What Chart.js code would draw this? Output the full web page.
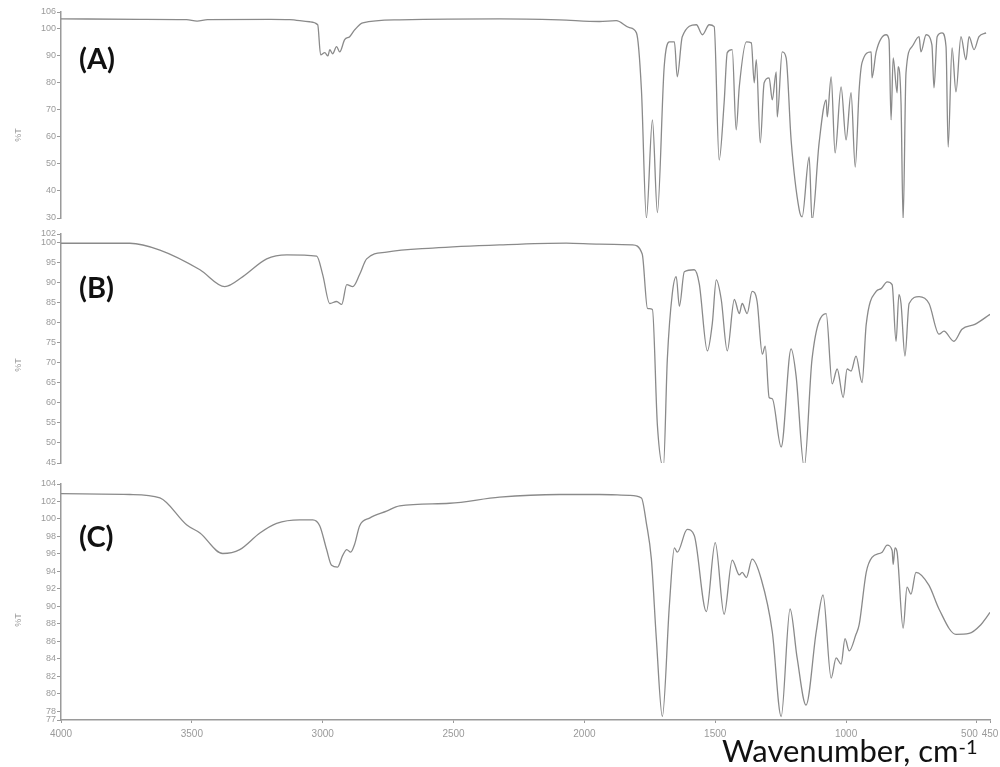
<!DOCTYPE html>
<html>
<head>
<meta charset="utf-8">
<script src="https://cdn.jsdelivr.net/npm/chart.js@4.4.1/dist/chart.umd.min.js"></script>
<style>
  body { margin: 0; background: #fff; }
  #wrap { position: relative; width: 1000px; height: 767px; overflow: hidden; }
  #wrap canvas { position: absolute; left: 0; }
  .panel { position: absolute; left: 79px; font: bold 29px Lato, sans-serif; line-height: 1; color: #111; }
  .ylab { position: absolute; left: 18px; font: 9px "Liberation Sans", sans-serif; color: #999;
          transform: translate(-50%, -50%) rotate(-90deg); white-space: nowrap; }
  #xlab { position: absolute; left: 722px; top: 735px; font: 31px Lato, sans-serif; line-height: 1; color: #111; white-space: nowrap; }
  #xlab sup { font-size: 20px; vertical-align: 8px; line-height: 0; }
</style>
</head>
<body>
<div id="wrap">
  <canvas id="chartA" width="1000" height="225" style="top:0px"></canvas>
  <canvas id="chartB" width="1000" height="245" style="top:225px"></canvas>
  <canvas id="chartC" width="1000" height="297" style="top:470px"></canvas>
  <div class="panel" style="top:43px">(A)</div>
  <div class="panel" style="top:272px">(B)</div>
  <div class="panel" style="top:521px">(C)</div>
  <div class="ylab" style="top:135px">%T</div>
  <div class="ylab" style="top:365px">%T</div>
  <div class="ylab" style="top:620px">%T</div>
  <div id="xlab">Wavenumber, cm<sup>-1</sup></div>
</div>
<script>
// wavenumber axis (shared by the three spectra)
const xTicks = [4000, 3500, 3000, 2500, 2000, 1500, 1000, 500, 450];

// (A)
const wnA = [4000, 3700, 3520, 3480, 3440, 3200, 3126, 3050, 3019, 3008, 2992, 2980, 2973, 2962, 2947, 2935, 2916, 2897, 2878, 2847,
  2706, 2324, 2095, 1943, 1878, 1828, 1801, 1782, 1763, 1740, 1721, 1695, 1675, 1656, 1645, 1626, 1572, 1549, 1523, 1504,
  1485, 1466, 1454, 1435, 1420, 1408, 1381, 1362, 1351, 1343, 1328, 1313, 1294, 1282, 1267, 1263, 1244, 1229, 1210, 1179,
  1168, 1141, 1130, 1103, 1076, 1072, 1057, 1042, 1019, 1000, 981, 965, 950, 939, 904, 901, 885, 847, 836, 828,
  820, 805, 801, 790, 782, 771, 748, 721, 714, 694, 672, 664, 652, 633, 618, 610, 595, 580, 561, 542,
  530, 511, 492, 465];
const tA = [103.5, 103.3, 103.2, 102.6, 103.2, 103.3, 103.2, 102.4, 101.3, 90.2, 91, 89.8, 92.1, 90.6, 93.2, 91.3, 95.8, 96.9, 99.4, 102,
  103.1, 103.5, 103.1, 102.5, 102.8, 100.2, 98.3, 77.3, 30, 66.2, 32, 85.8, 95, 95, 82.1, 96.9, 101.3, 97.6, 101.3, 100.6,
  51.4, 72.5, 91, 92.1, 62.5, 78.4, 95, 94.6, 79.9, 88.4, 57.7, 79.9, 81.7, 73.6, 83.9, 67.3, 91.3, 89.1, 58.8, 33,
  30.4, 52.5, 29, 57.7, 73.6, 67.3, 82.1, 54, 78.4, 58.8, 76.2, 48.8, 77.3, 87.3, 91.3, 81.7, 91.3, 97.6, 95.8, 66.2,
  89.1, 76.2, 85.8, 72.5, 29, 83.6, 93.2, 96.9, 91.3, 97.6, 93.9, 78, 96.9, 98.3, 93.2, 56.2, 92.8, 76.5, 96.9, 88.4,
  96.9, 92.1, 96.9, 98.3];
const yTicksA = [106, 100, 90, 80, 70, 60, 50, 40, 30];

// (B)
const wnB = [4000, 3737, 3622, 3469, 3374, 3305, 3214, 3137, 3023, 3000, 2973, 2947, 2927, 2908, 2885, 2859, 2832, 2756, 2580, 2324,
  2069, 1943, 1817, 1779, 1759, 1740, 1721, 1698, 1683, 1664, 1649, 1637, 1618, 1580, 1561, 1530, 1511, 1496, 1477, 1454,
  1427, 1408, 1397, 1378, 1359, 1340, 1320, 1309, 1294, 1282, 1248, 1210, 1191, 1160, 1130, 1076, 1053, 1034, 1011, 996,
  981, 962, 939, 923, 885, 866, 843, 824, 809, 798, 790, 775, 759, 721, 683, 645, 626, 588, 557, 508,
  450];
const tB = [99.7, 99.7, 98, 93.1, 88.9, 91.4, 95.8, 96.8, 96.5, 91.9, 84.7, 85.2, 84.5, 89.4, 88.9, 91.9, 95.8, 97.5, 98.5, 99.3,
  99.75, 99.5, 99.3, 97, 83.5, 83.2, 54.4, 44, 70.9, 87.2, 91.4, 84, 92.6, 93.1, 89.6, 72.9, 79.8, 90.6, 85.7, 72.9,
  85.7, 82.2, 84.7, 82.2, 87.7, 85.2, 72.1, 74.1, 61.3, 61, 49, 73.4, 66.7, 44, 70.9, 82.2, 64.7, 68.4, 61.3, 68.4,
  67.9, 71.6, 65, 79.5, 87.7, 88.4, 90.1, 89.4, 75.3, 86.9, 84.7, 71.6, 84.7, 86.4, 84.7, 77.1, 77.8, 75.3, 78.3, 79.5,
  82];
const yTicksB = [102, 100, 95, 90, 85, 80, 75, 70, 65, 60, 55, 50, 45];

// (C)
const wnC = [4000, 3737, 3622, 3519, 3469, 3382, 3317, 3240, 3176, 3088, 3038, 3011, 2985, 2966, 2943, 2924, 2908, 2893, 2878, 2859,
  2821, 2756, 2706, 2515, 2324, 2095, 1943, 1828, 1782, 1763, 1744, 1725, 1702, 1675, 1656, 1645, 1607, 1580, 1534, 1500,
  1466, 1435, 1408, 1397, 1381, 1359, 1324, 1282, 1248, 1214, 1187, 1153, 1114, 1088, 1057, 1038, 1019, 1004, 988, 962,
  950, 923, 901, 862, 843, 824, 820, 813, 805, 782, 767, 752, 733, 683, 645, 580, 530, 485, 462, 450];
const tC = [102.9, 102.8, 102.4, 99.3, 98.4, 96.05, 96.5, 98.4, 99.5, 99.9, 99.9, 99.2, 96.5, 94.7, 94.5, 95.8, 96.5, 96.2, 97.1, 99.2,
  100.1, 100.9, 101.5, 101.8, 102.5, 102.8, 102.8, 102.7, 102.4, 99.5, 95.4, 86.3, 77.4, 90.2, 96.7, 96.2, 98.8, 98.1, 89.4, 97.3,
  89.1, 95.3, 93.6, 93.9, 93.3, 95.4, 93.1, 87.1, 77.4, 89.7, 84.1, 78.7, 87.1, 91.3, 81.8, 84.1, 83.4, 86.3, 84.9, 86.8,
  87.9, 93.9, 95.6, 96.2, 97, 96.4, 94.8, 96.7, 96.2, 87.5, 92.2, 91.4, 93.9, 92.4, 89.7, 86.8, 86.9, 87.9, 88.8, 89.3];
const yTicksC = [104, 102, 100, 98, 96, 94, 92, 90, 88, 86, 84, 82, 80, 78, 77];

const axisGrey = '#9a9a9a';
const lineGrey = '#8a8a8a';

// 500 and 450 sit close together, push the 500 label a bit to the left
function xLabel(v) {
    if (v === 500) return '500\u2003\u2002';
    return String(v);
}

function makeSpectrum(id, wn, t, yTicks, showX, padTop, padBottom) {
    const ctx = document.getElementById(id);
    const points = wn.map((w, i) => ({ x: w, y: t[i] }));
    return new Chart(ctx, {
        type: 'line',
        data: {
            datasets: [{
                data: points,
                borderColor: lineGrey,
                borderWidth: 1.3,
                pointRadius: 0,
                cubicInterpolationMode: 'monotone'
            }]
        },
        options: {
            responsive: false,
            animation: false,
            layout: { padding: { top: padTop, bottom: padBottom, left: 0, right: 10 } },
            plugins: { legend: { display: false }, tooltip: { enabled: false } },
            scales: {
                x: {
                    type: 'linear',
                    display: showX,
                    reverse: true,
                    min: 450,
                    max: 4000,
                    afterBuildTicks: scale => { scale.ticks = xTicks.map(v => ({ value: v })); },
                    afterFit: scale => {
                        scale.height = showX ? 47 : 0;
                        // keep the same plot width in all three panels
                        scale.paddingLeft = 0;
                        scale.paddingRight = 0;
                    },
                    grid: { display: true, drawOnChartArea: false, drawTicks: true, tickLength: 3, color: axisGrey },
                    border: { display: true, color: axisGrey, width: 1.5 },
                    ticks: {
                        autoSkip: false, maxRotation: 0, padding: 5,
                        color: axisGrey, font: { family: 'Liberation Sans', size: 10 },
                        callback: v => xLabel(v)
                    }
                },
                y: {
                    type: 'linear',
                    min: yTicks[yTicks.length - 1],
                    max: yTicks[0],
                    afterBuildTicks: scale => { scale.ticks = yTicks.map(v => ({ value: v })); },
                    afterFit: scale => { scale.width = 61; },
                    grid: { display: true, drawOnChartArea: false, drawTicks: true, tickLength: 4, color: axisGrey },
                    border: { display: true, color: axisGrey, width: 1.5 },
                    ticks: {
                        autoSkip: false, padding: 1,
                        color: axisGrey, font: { family: 'Liberation Sans', size: 9 },
                        callback: v => String(v)
                    }
                }
            }
        }
    });
}

makeSpectrum('chartA', wnA, tA, yTicksA, false, 12, 7);
makeSpectrum('chartB', wnB, tB, yTicksB, false, 9, 7);
makeSpectrum('chartC', wnC, tC, yTicksC, true, 14, 0);
</script>
</body>
</html>
